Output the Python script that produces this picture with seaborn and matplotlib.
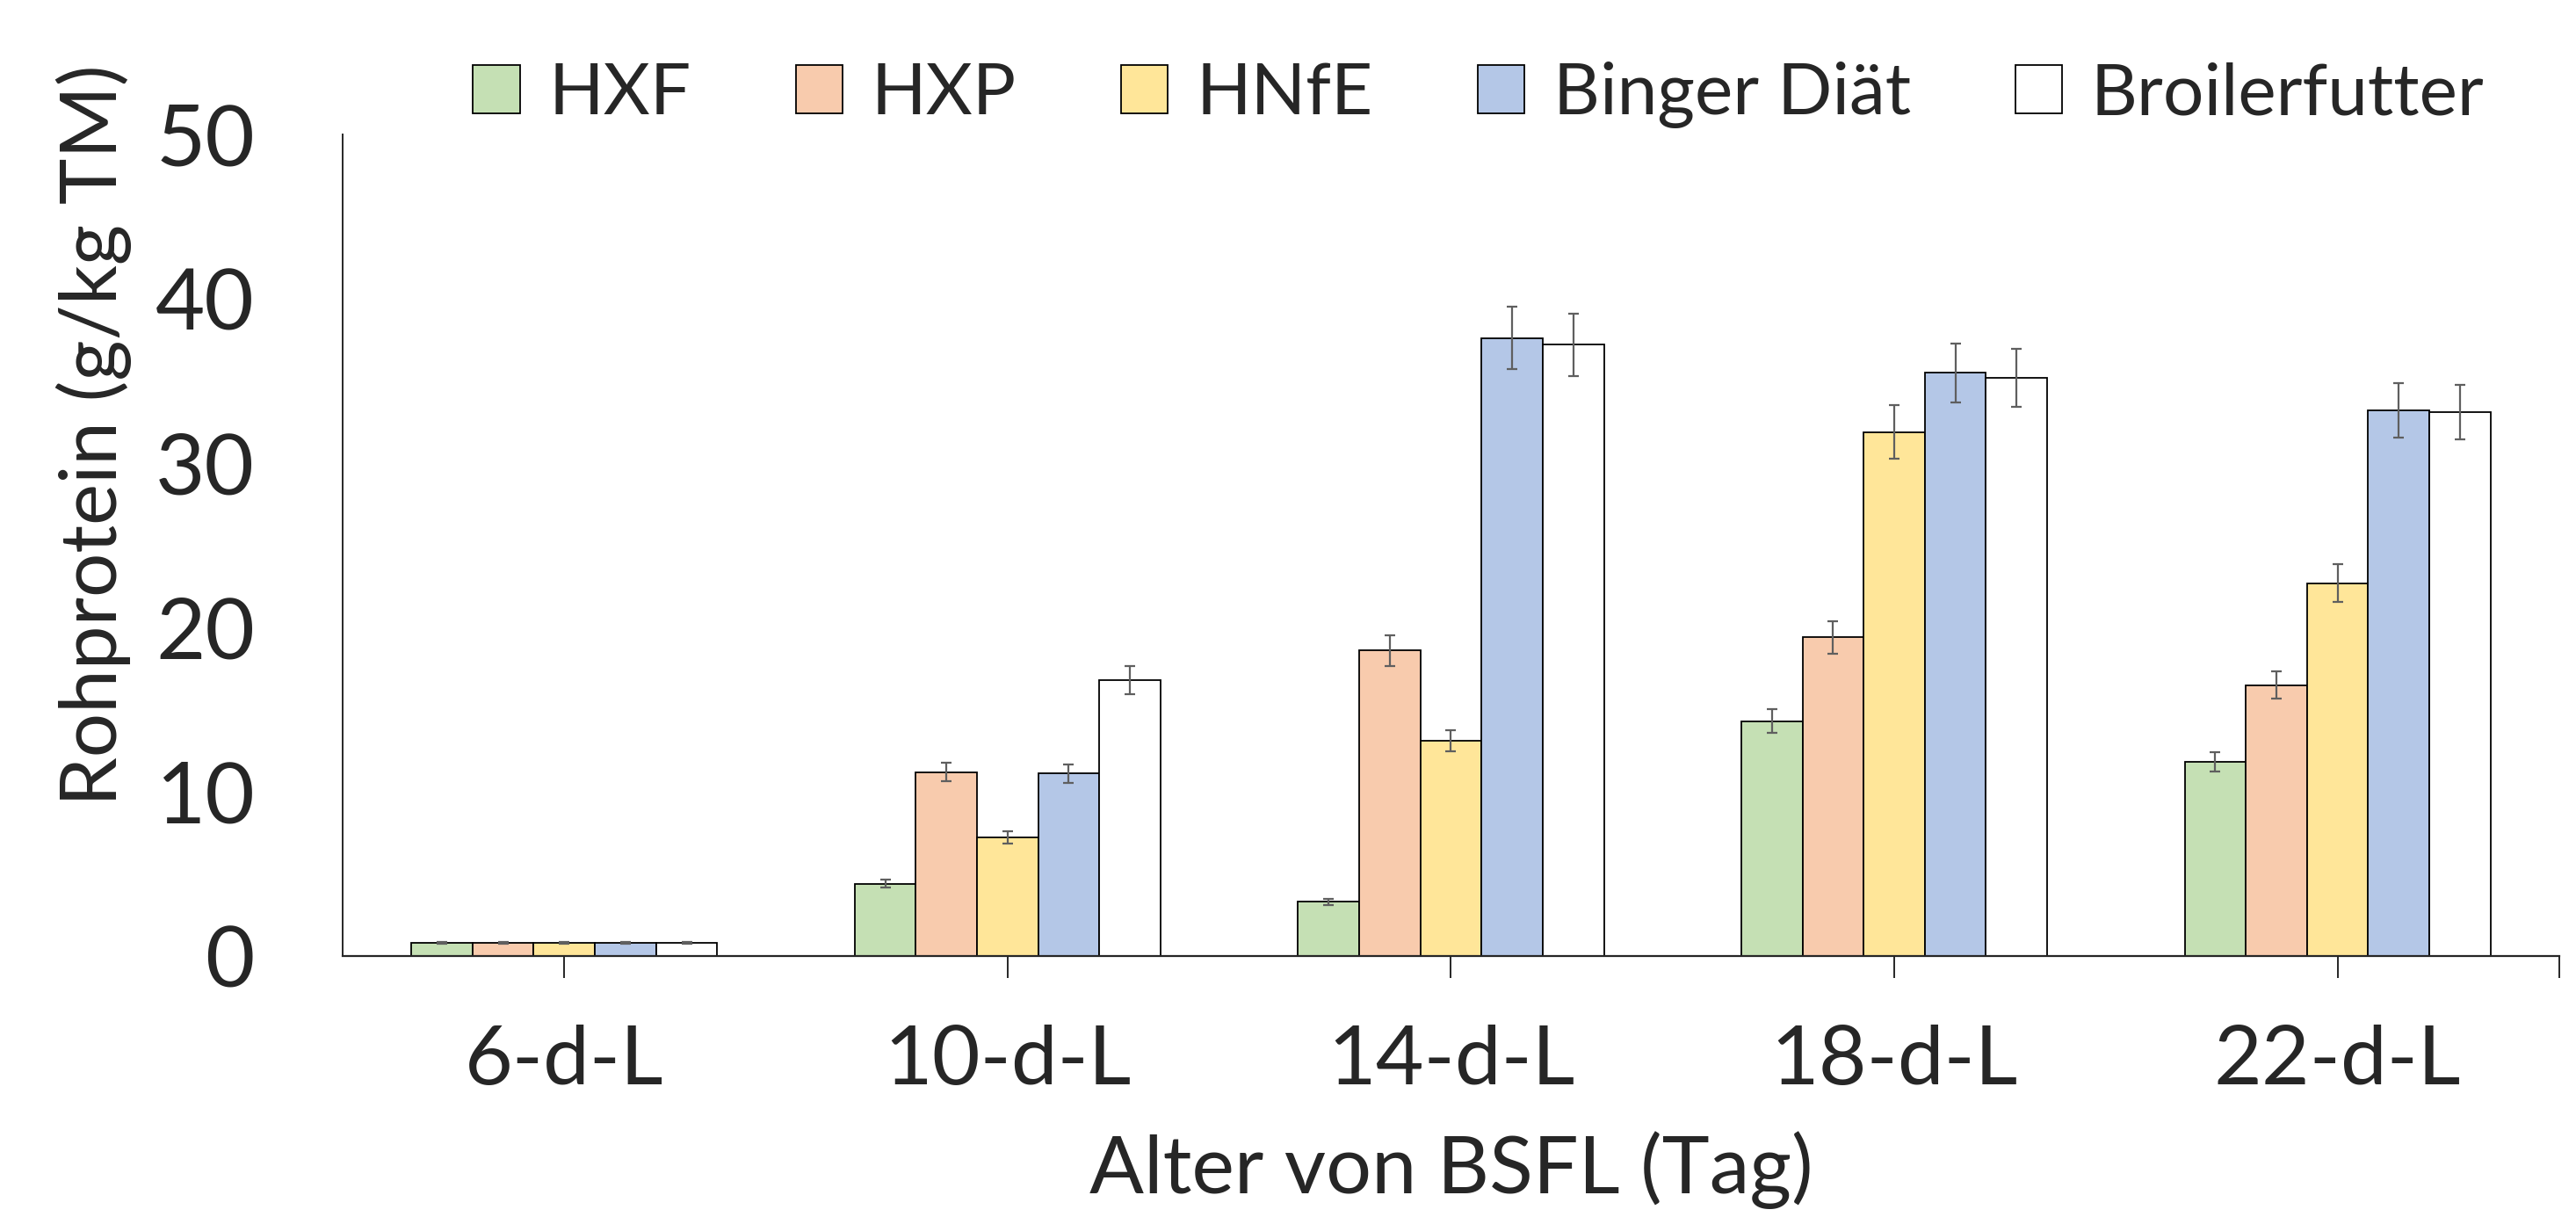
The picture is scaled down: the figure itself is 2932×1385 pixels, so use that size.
import seaborn as sns
import matplotlib.pyplot as plt
import pandas as pd

# values
ages = ["6-d-L", "10-d-L", "14-d-L", "18-d-L", "22-d-L"]
diets = ["HXF", "HXP", "HNfE", "Binger Diät", "Broilerfutter"]

hxf = [0.8, 4.4, 3.3, 14.3, 11.8]
hxp = [0.8, 11.2, 18.6, 19.4, 16.5]
hnfe = [0.8, 7.2, 13.1, 31.9, 22.7]
binger = [0.8, 11.1, 37.6, 35.5, 33.2]
broiler = [0.8, 16.8, 37.2, 35.2, 33.1]

hxf_err = [0.05, 0.25, 0.18, 0.73, 0.59]
hxp_err = [0.05, 0.58, 0.93, 0.98, 0.84]
hnfe_err = [0.05, 0.37, 0.66, 1.62, 1.14]
binger_err = [0.05, 0.56, 1.9, 1.79, 1.65]
broiler_err = [0.05, 0.84, 1.9, 1.78, 1.65]

colors = ["#C5E0B4", "#F8CBAD", "#FFE699", "#B4C7E7", "#FFFFFF"]

values = [hxf, hxp, hnfe, binger, broiler]
errors = [hxf_err, hxp_err, hnfe_err, binger_err, broiler_err]

rows = []
for d, vals in zip(diets, values):
    for a, v in zip(ages, vals):
        rows.append({"Alter": a, "Diät": d, "Wert": v})
df = pd.DataFrame(rows)

sns.set_style("white")
plt.rcParams["font.family"] = ["Lato", "DejaVu Sans"]

fig = plt.figure(figsize=(29.32, 13.85), dpi=100)
ax = fig.add_axes([0.133, 0.2144, 0.8605, 0.6751])

sns.barplot(data=df, x="Alter", y="Wert", hue="Diät", order=ages, hue_order=diets,
            palette=colors, saturation=1, width=0.69, errorbar=None,
            edgecolor="black", linewidth=1.3, ax=ax)

# error bars at the centre of each drawn bar
for cont, err in zip(ax.containers, errors):
    xs = [p.get_x() + p.get_width() / 2 for p in cont]
    ys = [p.get_height() for p in cont]
    ax.errorbar(xs, ys, yerr=err, fmt="none", ecolor="#5f5f5f", elinewidth=1.6,
                capsize=4, capthick=1.6, zorder=5)

ax.set_xlim(-0.5, 4.5)
ax.set_ylim(0, 50)
ax.set_yticks([0, 10, 20, 30, 40, 50])
ax.set_xticks(range(len(ages)))
ax.set_xticks([4.5], minor=True)

for s in ["top", "right"]:
    ax.spines[s].set_visible(False)
ax.spines["left"].set_linewidth(1.4)
ax.spines["bottom"].set_linewidth(1.6)

ax.tick_params(axis="y", direction="in", length=25, width=1.2, pad=72, labelsize=70)
ax.tick_params(axis="x", which="both", direction="out", length=18, width=1.4,
               pad=38, labelsize=68, bottom=True)

ax.set_xlabel("Alter von BSFL (Tag)", fontsize=66)
ax.set_ylabel("Rohprotein (g/kg TM)", fontsize=64)
ax.xaxis.set_label_coords(0.5, -0.213)
ax.yaxis.set_label_coords(-0.095, 0.634)

handles, labels = ax.get_legend_handles_labels()
ax.legend(handles, labels, loc="center", bbox_to_anchor=(0.574, 0.922),
          bbox_transform=fig.transFigure, ncol=5, frameon=False, fontsize=59,
          handlelength=0.65, handleheight=0.65, handletextpad=0.4,
          columnspacing=1.45, borderaxespad=0)

fig.savefig("out.png", dpi=100)
